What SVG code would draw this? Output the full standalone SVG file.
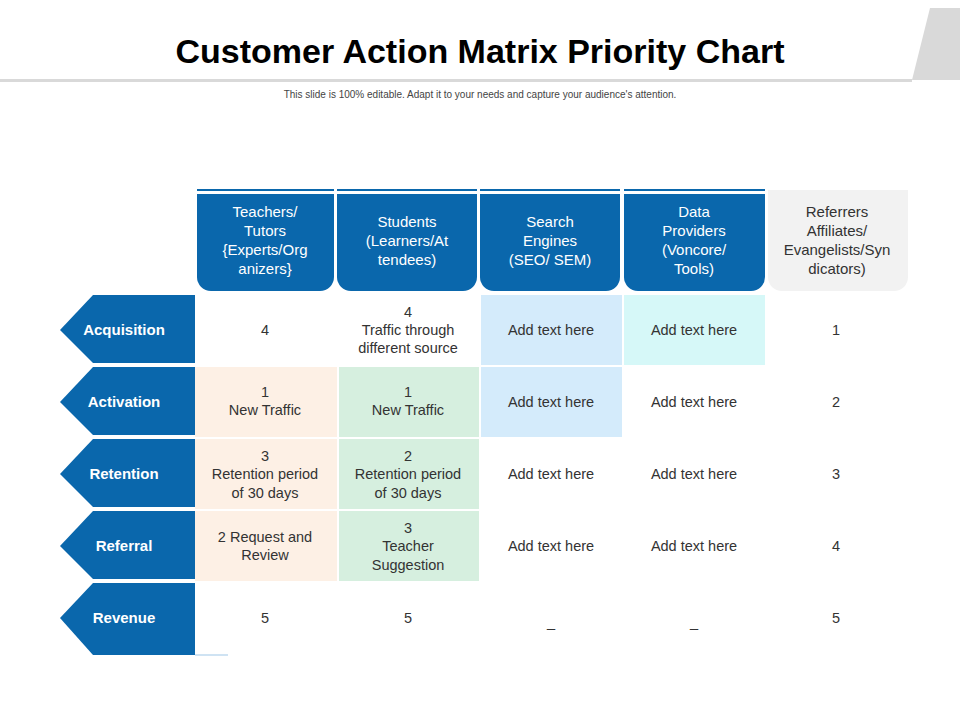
<svg xmlns="http://www.w3.org/2000/svg" width="960" height="720" viewBox="0 0 960 720">
<style>
.t{font-family:"Liberation Sans",Arial,sans-serif;font-size:14.5px;fill:#333;text-anchor:middle}
.h{font-family:"Liberation Sans",Arial,sans-serif;font-size:15px;fill:#fff;text-anchor:middle}
.hg{fill:#333}
.lab{font-family:"Liberation Sans",Arial,sans-serif;font-size:15px;font-weight:bold;fill:#fff;text-anchor:middle}
.hb{fill:#0a67ac}
.arr{fill:#0a67ac}
</style>
<rect width="960" height="720" fill="#fff"/>
<g id="title">
<polygon points="930,8 960,8 960,80 912,80" fill="#d9d9d9"/>
<rect x="0" y="79" width="912" height="3" fill="#d9d9d9"/>
<text x="480" y="63" font-family="Liberation Sans,Arial,sans-serif" font-size="34" font-weight="bold" text-anchor="middle" fill="#000">Customer Action Matrix Priority Chart</text>
<text x="480" y="98" font-family="Liberation Sans,Arial,sans-serif" font-size="10" text-anchor="middle" fill="#444">This slide is 100% editable. Adapt it to your needs and capture your audience's attention.</text>
</g>
<g id="headers">
<rect class="hb" x="197" y="189" width="137" height="2"/>
<path class="hb" d="M197,194H334V277a14,14 0 0 1 -14,14H211a14,14 0 0 1 -14,-14Z"/>
<text class="h" x="265" y="217">Teachers/</text><text class="h" x="265" y="236">Tutors</text><text class="h" x="265" y="255">{Experts/Org</text><text class="h" x="265" y="274">anizers}</text>
<rect class="hb" x="337" y="189" width="140" height="2"/>
<path class="hb" d="M337,194H477V277a14,14 0 0 1 -14,14H351a14,14 0 0 1 -14,-14Z"/>
<text class="h" x="407" y="227">Students</text><text class="h" x="407" y="246">(Learners/At</text><text class="h" x="407" y="265">tendees)</text>
<rect class="hb" x="480" y="189" width="140" height="2"/>
<path class="hb" d="M480,194H620V277a14,14 0 0 1 -14,14H494a14,14 0 0 1 -14,-14Z"/>
<text class="h" x="550" y="227">Search</text><text class="h" x="550" y="246">Engines</text><text class="h" x="550" y="265">(SEO/ SEM)</text>
<rect class="hb" x="624" y="189" width="141" height="2"/>
<path class="hb" d="M624,194H765V277a14,14 0 0 1 -14,14H638a14,14 0 0 1 -14,-14Z"/>
<text class="h" x="694" y="217">Data</text><text class="h" x="694" y="236">Providers</text><text class="h" x="694" y="255">(Voncore/</text><text class="h" x="694" y="274">Tools)</text>
<path fill="#f2f2f2" d="M768,190H908V277a14,14 0 0 1 -14,14H782a14,14 0 0 1 -14,-14Z"/>
<text class="h hg" x="837" y="217">Referrers</text><text class="h hg" x="837" y="236">Affiliates/</text><text class="h hg" x="837" y="255">Evangelists/Syn</text><text class="h hg" x="837" y="274">dicators)</text>
</g>
<g id="cells">
<rect x="481" y="295" width="141" height="70" fill="#d4ebfb"/>
<rect x="624" y="295" width="141" height="70" fill="#d6f8f8"/>
<rect x="195" y="367" width="142" height="70" fill="#fdf0e5"/>
<rect x="339" y="367" width="140" height="70" fill="#d6efdf"/>
<rect x="481" y="367" width="141" height="70" fill="#d4ebfb"/>
<rect x="195" y="439" width="142" height="70" fill="#fdf0e5"/>
<rect x="339" y="439" width="140" height="70" fill="#d6efdf"/>
<rect x="195" y="511" width="142" height="70" fill="#fdf0e5"/>
<rect x="339" y="511" width="140" height="70" fill="#d6efdf"/>
<rect x="195" y="654" width="33" height="2" fill="#cfe3f3"/>
</g>
<g id="rows">
<g id="acquisition"><polygon class="arr" points="60,330 93,295 195,295 195,363 93,363"/><text class="lab" x="124" y="335">Acquisition</text></g>
<g id="activation"><polygon class="arr" points="60,402 93,367 195,367 195,435 93,435"/><text class="lab" x="124" y="407">Activation</text></g>
<g id="retention"><polygon class="arr" points="60,474 93,439 195,439 195,507 93,507"/><text class="lab" x="124" y="479">Retention</text></g>
<g id="referral"><polygon class="arr" points="60,546 93,511 195,511 195,579 93,579"/><text class="lab" x="124" y="551">Referral</text></g>
<g id="revenue"><polygon class="arr" points="60,618 93,583 195,583 195,655 93,655"/><text class="lab" x="124" y="623">Revenue</text></g>
</g>
<g id="texts">
<text class="t" x="265" y="335">4</text>
<text class="t" x="408" y="317">4</text><text class="t" x="408" y="335">Traffic through</text><text class="t" x="408" y="353">different source</text>
<text class="t" x="551" y="335">Add text here</text><text class="t" x="694" y="335">Add text here</text><text class="t" x="836" y="335">1</text>
<text class="t" x="265" y="397">1</text><text class="t" x="265" y="415">New Traffic</text>
<text class="t" x="408" y="397">1</text><text class="t" x="408" y="415">New Traffic</text>
<text class="t" x="551" y="407">Add text here</text><text class="t" x="694" y="407">Add text here</text><text class="t" x="836" y="407">2</text>
<text class="t" x="265" y="461">3</text><text class="t" x="265" y="479">Retention period</text><text class="t" x="265" y="498">of 30 days</text>
<text class="t" x="408" y="461">2</text><text class="t" x="408" y="479">Retention period</text><text class="t" x="408" y="498">of 30 days</text>
<text class="t" x="551" y="479">Add text here</text><text class="t" x="694" y="479">Add text here</text><text class="t" x="836" y="479">3</text>
<text class="t" x="265" y="542">2 Request and</text><text class="t" x="265" y="560">Review</text>
<text class="t" x="408" y="533">3</text><text class="t" x="408" y="551">Teacher</text><text class="t" x="408" y="570">Suggestion</text>
<text class="t" x="551" y="551">Add text here</text><text class="t" x="694" y="551">Add text here</text><text class="t" x="836" y="551">4</text>
<text class="t" x="265" y="623">5</text><text class="t" x="408" y="623">5</text>
<text class="t" x="551" y="627">_</text><text class="t" x="694" y="627">_</text><text class="t" x="836" y="623">5</text>
</g>
</svg>
